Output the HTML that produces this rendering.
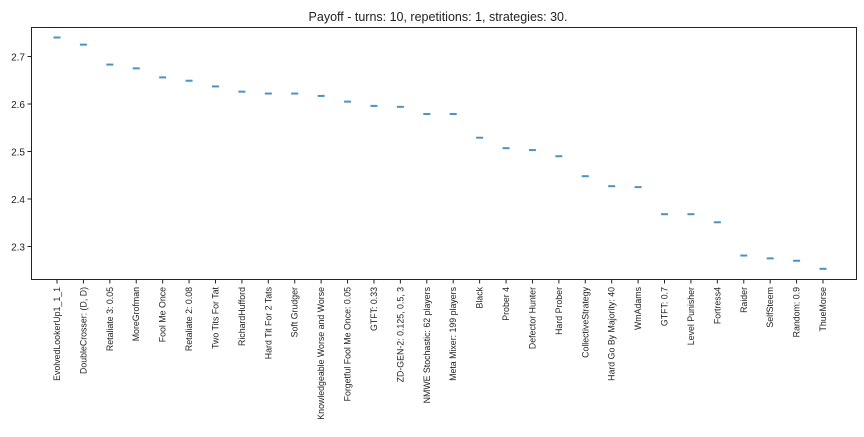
<!DOCTYPE html>
<html><head><meta charset="utf-8"><style>
body{margin:0;background:#fff;font-family:"Liberation Sans","DejaVu Sans",sans-serif;}
svg text{font-family:"Liberation Sans","DejaVu Sans",sans-serif;fill:#222;}
</style></head><body>
<svg id="c" width="864" height="432" xmlns="http://www.w3.org/2000/svg">
<rect width="864" height="432" fill="#fff"/>
<text x="438" y="21" font-size="12.5" text-anchor="middle">Payoff - turns: 10, repetitions: 1, strategies: 30.</text>
<g id="g"></g>
<rect x="31.5" y="27.5" width="825" height="252" fill="none" stroke="#222" stroke-width="1"/>
</svg>
<script>
const categories=["EvolvedLookerUp1_1_1","DoubleCrosser: (D, D)","Retaliate 3: 0.05","MoreGrofman","Fool Me Once","Retaliate 2: 0.08","Two Tits For Tat","RichardHufford","Hard Tit For 2 Tats","Soft Grudger","Knowledgeable Worse and Worse","Forgetful Fool Me Once: 0.05","GTFT: 0.33","ZD-GEN-2: 0.125, 0.5, 3","NMWE Stochastic: 62 players","Meta Mixer: 199 players","Black","Prober 4","Defector Hunter","Hard Prober","CollectiveStrategy","Hard Go By Majority: 40","WmAdams","GTFT: 0.7","Level Punisher","Fortress4","Raider","SelfSteem","Random: 0.9","ThueMorse"];
const values=[2.740,2.725,2.683,2.675,2.656,2.649,2.637,2.626,2.622,2.622,2.617,2.605,2.596,2.594,2.579,2.579,2.529,2.507,2.503,2.490,2.448,2.427,2.425,2.368,2.368,2.351,2.281,2.275,2.270,2.253];
const yTicks=[2.3,2.4,2.5,2.6,2.7];
const NS="http://www.w3.org/2000/svg";
const g=document.getElementById('g');
const x=i=>57+i*(823-57)/29;
const y=v=>56.5-(v-2.7)*475;
function mk(t,a){const e=document.createElementNS(NS,t);for(const k in a)e.setAttribute(k,a[k]);g.appendChild(e);return e;}
yTicks.forEach(t=>{
 const l=mk('line',{x1:27.5,x2:31.5,y1:y(t),y2:y(t),stroke:'#222'});
 
 
 const tx=mk('text',{x:25,y:y(t)+4,'font-size':10,'text-anchor':'end'});
 tx.textContent=t.toFixed(1);
 
 
});
categories.forEach((c,i)=>{
 const l=mk('line',{x1:x(i),x2:x(i),y1:279.5,y2:283.5,stroke:'#222'});
 
 
 const tx=mk('text',{x:0,y:0,'font-size':8.8,'text-anchor':'end',transform:`translate(${x(i)+3},287) rotate(-90)`});
 tx.textContent=c;
 
 
 const m=mk('rect',{x:x(i)-3.5,y:y(values[i])-1,width:7,height:2,fill:'#4c92c3'});
 
 
});
</script>
</body></html>
